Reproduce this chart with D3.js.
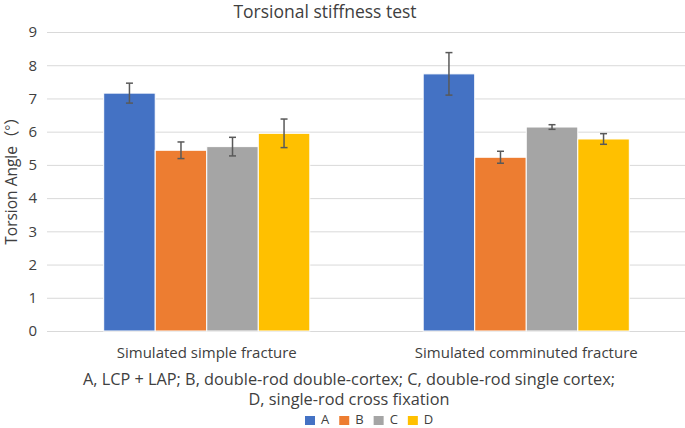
<!DOCTYPE html>
<html>
<head>
<meta charset="utf-8">
<script src="https://cdn.jsdelivr.net/npm/d3@7"></script>
<style>
  body { margin: 0; background: #fff; }
  text { font-family: "Open Sans", "Noto Sans", "Noto Sans CJK SC", sans-serif; fill: #404040; }
</style>
</head>
<body>
<svg id="chart" width="685" height="428"></svg>
<script>
// chart data
var groups = ["Simulated simple fracture", "Simulated comminuted fracture"];
var series = ["A", "B", "C", "D"];
var simpleMeans = [7.16, 5.44, 5.55, 5.95];
var simpleErr = [0.30, 0.25, 0.28, 0.43];
var comminutedMeans = [7.74, 5.23, 6.14, 5.78];
var comminutedErr = [0.64, 0.18, 0.07, 0.16];
var yTicks = [0, 1, 2, 3, 4, 5, 6, 7, 8, 9];
var colors = ["#4472C4", "#ED7D31", "#A5A5A5", "#FFC000"];
var noteLines = [
  "A, LCP + LAP; B, double-rod double-cortex; C, double-rod single cortex;",
  "D, single-rod cross fixation"
];

var rows = [
  { group: groups[0], means: simpleMeans, errs: simpleErr },
  { group: groups[1], means: comminutedMeans, errs: comminutedErr }
];

var svg = d3.select("#chart");

var x0 = d3.scaleBand().domain(groups).range([47, 686]);
var x1 = d3.scaleBand().domain(series).range([0, x0.bandwidth()]).paddingOuter(1.1);
var y = d3.scaleLinear().domain([0, 9]).range([331, 32]);
var color = d3.scaleOrdinal().domain(series).range(colors);

// gridlines
svg.append("g")
  .attr("class", "grid")
  .attr("transform", "translate(47,0)")
  .call(d3.axisLeft(y).tickValues(yTicks).tickSize(-640).tickFormat(""))
  .call(function(g) {
    g.select(".domain").remove();
    g.selectAll("line").attr("stroke", "#d9d9d9").attr("stroke-width", 1);
  });

// y tick labels
svg.append("g")
  .attr("transform", "translate(37,0)")
  .call(d3.axisLeft(y).tickValues(yTicks).tickSize(0).tickPadding(0))
  .call(function(g) {
    g.select(".domain").remove();
    g.selectAll("text")
      .attr("font-size", "15px")
      .style("font-family", "'Open Sans', sans-serif")
      .attr("fill", "#595959");
  });

// bars
var grp = svg.append("g").selectAll("g")
  .data(rows)
  .join("g")
  .attr("transform", function(d) { return "translate(" + x0(d.group) + ",0)"; });

grp.selectAll("rect")
  .data(function(d) {
    return series.map(function(s, i) { return { key: s, value: d.means[i], err: d.errs[i] }; });
  })
  .join("rect")
  .attr("x", function(d) { return x1(d.key); })
  .attr("y", function(d) { return y(d.value); })
  .attr("width", x1.bandwidth())
  .attr("height", function(d) { return y(0) - y(d.value); })
  .attr("fill", function(d) { return color(d.key); })
  .attr("stroke", "#fff")
  .attr("stroke-width", 1);

// error bars
var eb = grp.selectAll("g.err")
  .data(function(d) {
    return series.map(function(s, i) { return { key: s, value: d.means[i], err: d.errs[i] }; });
  })
  .join("g")
  .attr("class", "err")
  .attr("stroke", "#595959")
  .attr("stroke-width", 1.5);

eb.append("line")
  .attr("x1", function(d) { return x1(d.key) + x1.bandwidth() / 2; })
  .attr("x2", function(d) { return x1(d.key) + x1.bandwidth() / 2; })
  .attr("y1", function(d) { return y(d.value + d.err); })
  .attr("y2", function(d) { return y(d.value - d.err); });

[1, -1].forEach(function(sign) {
  eb.append("line")
    .attr("x1", function(d) { return x1(d.key) + x1.bandwidth() / 2 - 3.5; })
    .attr("x2", function(d) { return x1(d.key) + x1.bandwidth() / 2 + 3.5; })
    .attr("y1", function(d) { return y(d.value + sign * d.err); })
    .attr("y2", function(d) { return y(d.value + sign * d.err); });
});

// category labels
svg.append("g")
  .attr("transform", "translate(0,341)")
  .call(d3.axisBottom(x0).tickSize(0).tickPadding(0))
  .call(function(g) {
    g.select(".domain").remove();
    g.selectAll("text")
      .attr("dy", "0")
      .attr("y", 17)
      .attr("font-size", "15px")
      .style("font-family", "'Open Sans', sans-serif")
      .attr("fill", "#404040");
  });

// title
svg.append("text")
  .attr("x", 325)
  .attr("y", 18)
  .attr("text-anchor", "middle")
  .attr("font-size", "17.5px")
  .attr("fill", "#000")
  .text("Torsional stiffness test");

// y axis title
var yt = svg.append("text")
  .attr("transform", "translate(17,177) rotate(-90)")
  .attr("text-anchor", "middle")
  .attr("font-size", "15.5px")
  .attr("fill", "#000");
yt.append("tspan").text("Torsion Angle");
yt.append("tspan").style("font-family", "'Noto Sans CJK SC', sans-serif").text("（°）");

// notes under the chart
svg.selectAll("text.note")
  .data(noteLines)
  .join("text")
  .attr("class", "note")
  .attr("x", 349)
  .attr("y", function(d, i) { return 385 + i * 20; })
  .attr("text-anchor", "middle")
  .attr("font-size", "16.3px")
  .attr("fill", "#000")
  .text(function(d) { return d; });

// legend
var legend = svg.append("g").attr("transform", "translate(305,415)");
var lx = 0;
series.forEach(function(s) {
  var item = legend.append("g").attr("transform", "translate(" + lx + ",0)");
  item.append("rect").attr("y", 1).attr("width", 10).attr("height", 9).attr("fill", color(s));
  var t = item.append("text")
    .attr("x", 16)
    .attr("y", 9)
    .attr("font-size", "13px")
    .attr("fill", "#404040")
    .text(s);
  lx += 16 + t.node().getComputedTextLength() + 10;
});
</script>
</body>
</html>
